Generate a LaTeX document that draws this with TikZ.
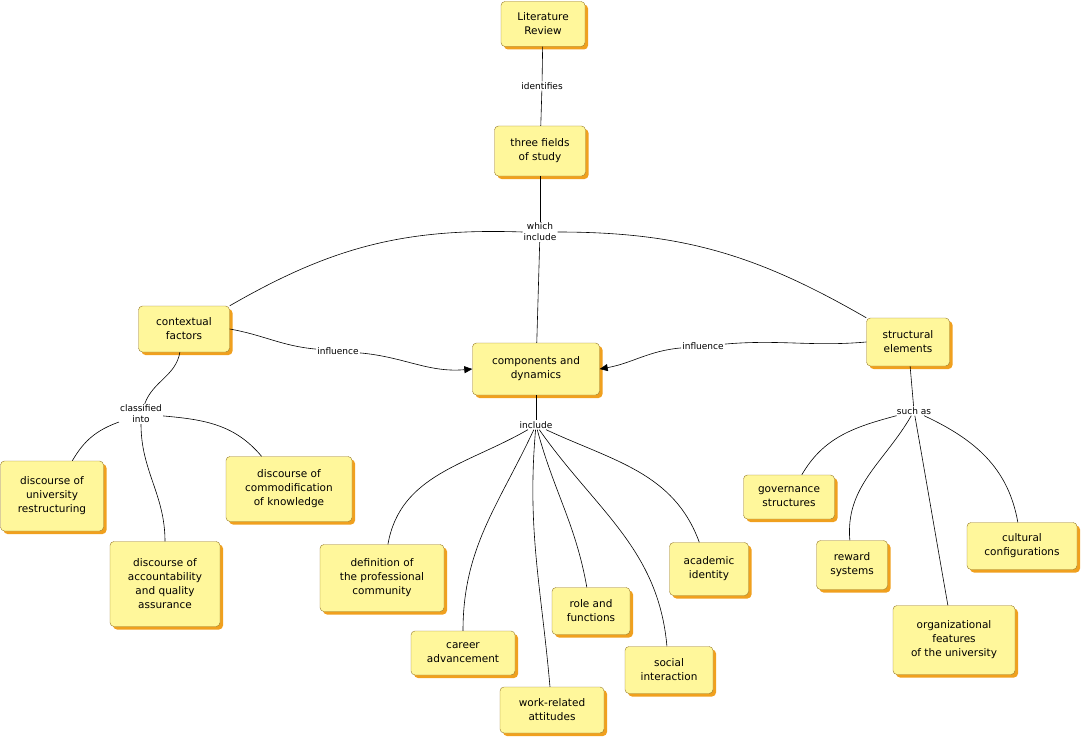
\documentclass[tikz,border=0pt]{standalone}
\usepackage{fontspec}
\setmainfont{DejaVu Sans}
\usetikzlibrary{shadows,arrows.meta}
\definecolor{cfill}{RGB}{255,247,155}
\definecolor{cshadow}{RGB}{240,160,30}
\definecolor{cline}{RGB}{150,120,40}
\tikzset{
  concept/.style={draw=cline, fill=cfill, rounded corners=4pt, align=center,
    font=\fontsize{10.5}{14}\selectfont, inner sep=5pt,
    drop shadow={fill=cshadow, opacity=1, shadow xshift=3pt, shadow yshift=-3pt}},
  linkl/.style={fill=white, align=center, inner sep=1pt, font=\fontsize{9}{11}\selectfont},
  link/.style={draw=black, line width=0.6pt},
  arr/.style={link, -{Triangle[length=8pt,width=7pt]}}
}
\begin{document}
\begin{tikzpicture}[x=1pt,y=-1pt]
\useasboundingbox (0,0) rectangle (1084,741);
% concepts
\node[concept, minimum width=84, minimum height=45] (lit) at (543,24) {Literature\\Review};
\node[concept, minimum width=91, minimum height=50] (three) at (540,151) {three fields\\of study};
\node[concept, minimum width=91, minimum height=46] (ctx) at (184,329) {contextual\\factors};
\node[concept, minimum width=127, minimum height=52] (comp) at (536,369) {components and\\dynamics};
\node[concept, minimum width=83, minimum height=48] (struct) at (908,342) {structural\\elements};
\node[concept, minimum width=103, minimum height=70] (univ) at (52,496) {discourse of\\university\\restructuring};
\node[concept, minimum width=110, minimum height=85] (acct) at (165,584) {discourse of\\accountability\\and quality\\assurance};
\node[concept, minimum width=126, minimum height=65] (commod) at (289,489) {discourse of\\commodification\\of knowledge};
\node[concept, minimum width=124, minimum height=67] (def) at (382,578) {definition of\\the professional\\community};
\node[concept, minimum width=104, minimum height=44] (career) at (463,653) {career\\advancement};
\node[concept, minimum width=104, minimum height=46] (work) at (552,710) {work-related\\attitudes};
\node[concept, minimum width=78, minimum height=47] (role) at (591,611) {role and\\functions};
\node[concept, minimum width=88, minimum height=47] (social) at (669,670) {social\\interaction};
\node[concept, minimum width=79, minimum height=53] (acad) at (709,569) {academic\\identity};
\node[concept, minimum width=91, minimum height=44] (gov) at (789,497) {governance\\structures};
\node[concept, minimum width=71, minimum height=49] (reward) at (852,565) {reward\\systems};
\node[concept, minimum width=122, minimum height=69] (org) at (954,640) {organizational\\features\\of the university};
\node[concept, minimum width=110, minimum height=47] (cult) at (1022,546) {cultural\\configurations};
% linking phrases
\node[linkl] (ident) at (542,86) {identifies};
\node[linkl] (which) at (540,232) {which\\include};
\node[linkl] (infl1) at (338,351) {influence};
\node[linkl] (infl2) at (703,346) {influence};
\node[linkl] (class) at (141,414) {classified\\into};
\node[linkl] (incl) at (536,425) {include};
\node[linkl] (such) at (914,411) {such as};
% connectors
\draw[link] (lit) -- (ident);
\draw[link] (ident) -- (three);
\draw[link] (three) -- (which);
\draw[link] (which) -- (comp);
\draw[link] (which.west) to[out=178,in=30] (ctx.north east);
\draw[link] (which.east) to[out=0,in=150] (struct.north west);
\draw[link] (ctx.east) to[out=-10,in=175] (infl1);
\draw[arr] (infl1) to[out=-5,in=185] (comp.west);
\draw[link] (struct.west) to[out=185,in=5] (infl2);
\draw[arr] (infl2) to[out=185,in=10] (comp.east);
\draw[link] (ctx) to[out=-100,in=70] (class);
\draw[link] (class) to[out=-160,in=60] (univ);
\draw[link] (class) to[out=-90,in=90] (acct);
\draw[link] (class) to[out=-5,in=130] (commod);
\draw[link] (comp) -- (incl);
\draw[link] (incl) to[out=-150,in=80] (def);
\draw[link] (incl) to[out=-115,in=90] (career);
\draw[link] (incl) to[out=-95,in=95] (work);
\draw[link] (incl) to[out=-75,in=100] (role);
\draw[link] (incl) to[out=-55,in=95] (social);
\draw[link] (incl) to[out=-25,in=110] (acad);
\draw[link] (struct) -- (such);
\draw[link] (such) to[out=-165,in=60] (gov);
\draw[link] (such) to[out=-120,in=95] (reward);
\draw[link] (such) to[out=-80,in=100] (org);
\draw[link] (such) to[out=-25,in=100] (cult);
\end{tikzpicture}
\end{document}
